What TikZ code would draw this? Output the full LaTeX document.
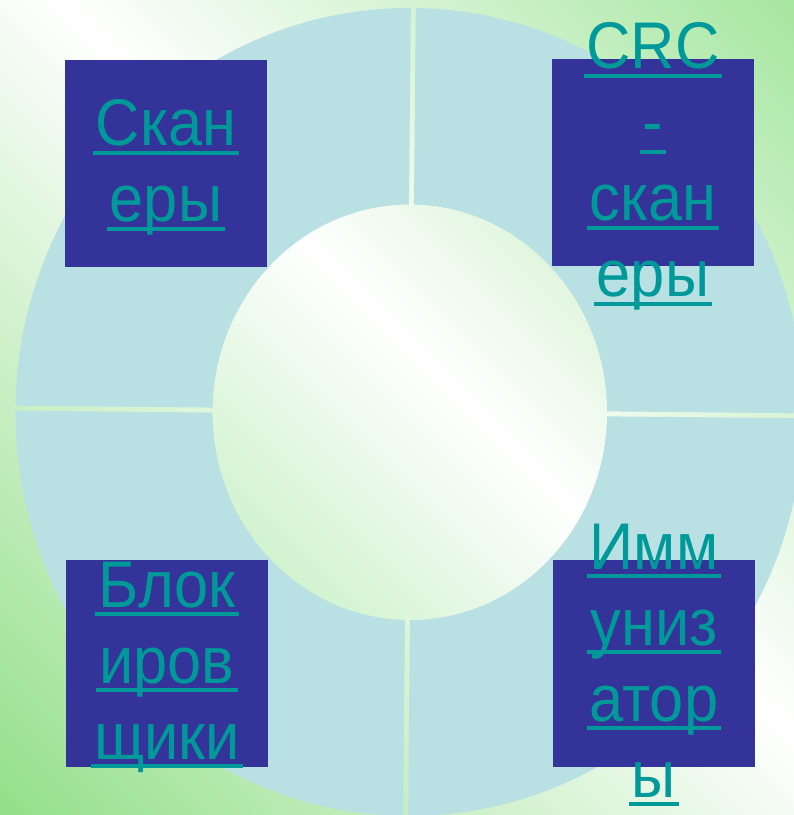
\documentclass[tikz,border=0pt]{standalone}
\usepackage{fontspec}
\setmainfont{Liberation Sans}[FakeStretch=0.93]
\usetikzlibrary{positioning}

\definecolor{bggreenlo}{HTML}{92DF88}
\definecolor{bggreenhi}{HTML}{A5E69F}
\definecolor{midgreenlo}{HTML}{D2F3D0}
\definecolor{midgreenhi}{HTML}{E2F6DF}
\definecolor{ringblue}{HTML}{B9E0E3}
\definecolor{boxblue}{HTML}{333399}
\definecolor{linkteal}{HTML}{009999}

\pgfdeclareverticalshading{bgband}{100bp}{color(0bp)=(bggreenlo); color(14bp)=(bggreenlo);
  color(53bp)=(white); color(86bp)=(bggreenhi); color(100bp)=(bggreenhi)}
\pgfdeclareverticalshading{midband}{100bp}{color(0bp)=(midgreenlo); color(25bp)=(midgreenlo);
  color(56bp)=(white); color(75bp)=(midgreenhi); color(100bp)=(midgreenhi)}

\newlength\ulen
\newcommand\uword[1]{\settowidth\ulen{#1}\rule[-14pt]{0pt}{68pt}\rlap{\hspace*{-3pt}\rule[-9pt]{\dimexpr\ulen+6pt\relax}{4pt}}#1}

\tikzset{
  card/.style={fill=boxblue, minimum width=202pt, minimum height=207pt, inner sep=0pt},
  cardtext/.style={text=linkteal, align=center, inner sep=0pt, font=\fontsize{66}{76}\selectfont}
}

\begin{document}
\begin{tikzpicture}[x=1pt,y=-1pt]
  \useasboundingbox (0,0) rectangle (794,815);
  \shade[shading=bgband, shading angle=-45] (0,0) rectangle (794,815);
  \clip (0,0) rectangle (794,815);

  % ring in four quarters
  \coordinate (ctr) at (409.5,412);
  \begin{scope}[rotate around={-0.55:(ctr)}]
    \foreach \sx/\sy in {1/1,1/-1,-1/1,-1/-1}{
      \begin{scope}
        \clip[shift={(ctr)}] (\sx*2.5,\sy*2.5) rectangle (\sx*450,\sy*450);
        \fill[ringblue, even odd rule] (ctr) ellipse[x radius=394, y radius=404]
                                       (ctr) ellipse[x radius=197, y radius=207.5];
      \end{scope}
    }
  \end{scope}
  \shade[shading=midband, shading angle=-45] (410,412.5) ellipse[x radius=197, y radius=207.5];

  % cards
  \node[card] (scan)  at (166,163.5) {};
  \node[card] (crc)   at (653,162.5) {};
  \node[card] (block) at (167,663) {};
  \node[card] (immun) at (654,663) {};

  \node[cardtext] (scantext)  at (scan)  {\uword{Скан}\\\uword{еры}};
  \node[cardtext] (crctext)   at (crc)   {\uword{CRC}\\\uword{-}\\\uword{скан}\\\uword{еры}};
  \node[cardtext] (blocktext) at (block) {\uword{Блок}\\\uword{иров}\\\uword{щики}};
  \node[cardtext] (immuntext) at (immun) {\uword{Имм}\\\uword{униз}\\\uword{атор}\\\uword{ы}};
\end{tikzpicture}
\end{document}
